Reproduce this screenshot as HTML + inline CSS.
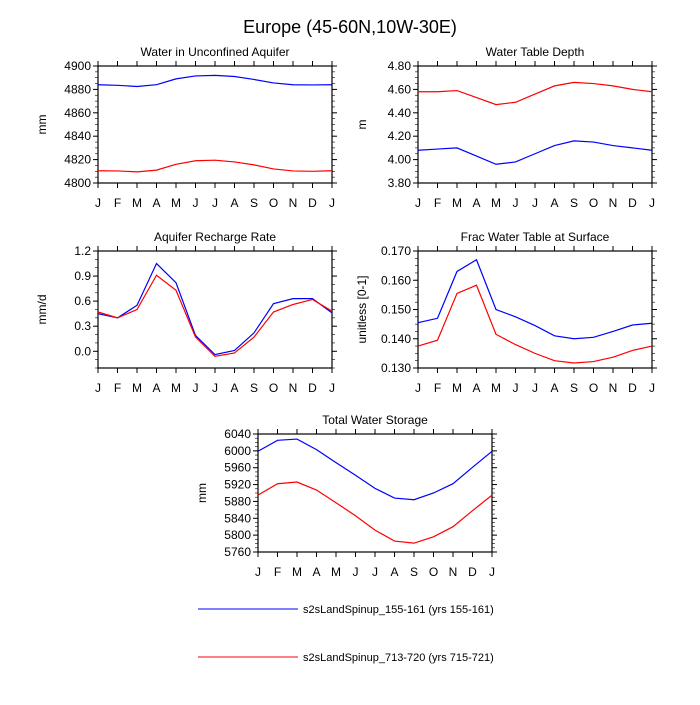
<!DOCTYPE html>
<html><head><meta charset="utf-8"><style>
body{margin:0;background:#fff;font-family:"Liberation Sans",sans-serif}
svg text{font-family:"Liberation Sans",sans-serif;fill:#000}
</style></head><body>
<svg id="c" width="700" height="700" viewBox="0 0 700 700">
<text x="350" y="33" font-size="18" text-anchor="middle">Europe (45-60N,10W-30E)</text>
<g>
<line x1="198" y1="609" x2="298" y2="609" stroke="#00f" stroke-width="1"/>
<text x="303" y="613" font-size="11">s2sLandSpinup_155-161 (yrs 155-161)</text>
<line x1="198" y1="657" x2="298" y2="657" stroke="#f00" stroke-width="1"/>
<text x="303" y="661" font-size="11">s2sLandSpinup_713-720 (yrs 715-721)</text>
</g>
</svg>
<script>
const months=["J","F","M","A","M","J","J","A","S","O","N","D","J"];
const aquiferBlue=[4884,4883.5,4882.5,4884,4889,4891.5,4892,4891,4888.5,4885.5,4884,4883.8,4884];
const aquiferRed=[4810.5,4810.3,4809.5,4811,4816,4819,4819.5,4818,4815.5,4812,4810.3,4810,4810.5];
const aquiferTicks=[4800,4820,4840,4860,4880,4900];
const wtdBlue=[4.08,4.09,4.10,4.03,3.96,3.98,4.05,4.12,4.16,4.15,4.12,4.10,4.08];
const wtdRed=[4.58,4.58,4.59,4.53,4.47,4.49,4.56,4.63,4.66,4.65,4.63,4.60,4.58];
const wtdTicks=[3.8,4.0,4.2,4.4,4.6,4.8];
const rechBlue=[0.45,0.40,0.55,1.05,0.82,0.19,-0.04,0.01,0.22,0.57,0.63,0.63,0.46];
const rechRed=[0.47,0.40,0.50,0.91,0.73,0.17,-0.06,-0.02,0.17,0.47,0.56,0.62,0.48];
const rechTicks=[0.0,0.3,0.6,0.9,1.2];
const fracBlue=[0.1455,0.147,0.163,0.167,0.150,0.1475,0.1445,0.141,0.140,0.1405,0.1425,0.1447,0.1453];
const fracRed=[0.1375,0.1395,0.1555,0.1583,0.1415,0.138,0.135,0.1325,0.1317,0.1322,0.1337,0.136,0.1375];
const fracTicks=[0.13,0.14,0.15,0.16,0.17];
const twsBlue=[5999,6025,6028,6003,5972,5942,5911,5888,5884,5900,5922,5961,5999];
const twsRed=[5895,5922,5926,5907,5877,5846,5812,5786,5781,5796,5820,5858,5895];
const twsTicks=[5760,5800,5840,5880,5920,5960,6000,6040];
const NS="http://www.w3.org/2000/svg";
const svg=document.getElementById("c");
function el(t,a,p){const e=document.createElementNS(NS,t);for(const k in a)e.setAttribute(k,a[k]);(p||svg).appendChild(e);return e;}
function panel(id,title,ylab,x0,x1,y0,y1,ymin,ymax,ticks,dec,minorStep,blue,red){
 const g=el("g",{});
 
 
 const X=i=>x0+(x1-x0)*i/(months.length-1);
 const Y=v=>y1-(v-ymin)/(ymax-ymin)*(y1-y0);
 const t=el("text",{x:(x0+x1)/2,y:y0-10,"font-size":12,"text-anchor":"middle"},g);t.textContent=title;
 
 
 const yl=el("text",{x:0,y:0,"font-size":12,"text-anchor":"middle",transform:`translate(${x0-52},${(y0+y1)/2}) rotate(-90)`},g);yl.textContent=ylab;
 
 
 for(let v=ymin;v<=ymax+1e-9;v+=minorStep){const y=Y(v);
  el("line",{x1:x0-3,x2:x0,y1:y,y2:y,stroke:"#000","stroke-width":0.6},g);
  el("line",{x1:x1,x2:x1+3,y1:y,y2:y,stroke:"#000","stroke-width":0.6},g);}
 ticks.forEach(v=>{const y=Y(v);
  el("line",{x1:x0-5,x2:x0,y1:y,y2:y,stroke:"#000","stroke-width":1},g);
  el("line",{x1:x1,x2:x1+5,y1:y,y2:y,stroke:"#000","stroke-width":1},g);
  const tt=el("text",{x:x0-7,y:y+4,"font-size":12,"text-anchor":"end"},g);tt.textContent=v.toFixed(dec);
  
  });
 months.forEach((m,i)=>{const x=X(i);
  el("line",{x1:x,x2:x,y1:y1,y2:y1+5,stroke:"#000","stroke-width":1},g);
  el("line",{x1:x,x2:x,y1:y0-5,y2:y0,stroke:"#000","stroke-width":1},g);
  const tt=el("text",{x:x,y:y1+24,"font-size":12,"text-anchor":"middle"},g);tt.textContent=m;
  
  });
 el("rect",{x:x0,y:y0,width:x1-x0,height:y1-y0,fill:"none",stroke:"#000","stroke-width":1.2},g);
 [[blue,"#00f","blue"],[red,"#f00","red"]].forEach(([d,c,n])=>{
  const p=el("polyline",{points:d.map((v,i)=>X(i)+","+Y(v)).join(" "),fill:"none",stroke:c,"stroke-width":1.2},g);
  
  });
}
panel("aquifer","Water in Unconfined Aquifer","mm",98,332,66,183,4800,4900,aquiferTicks,0,5,aquiferBlue,aquiferRed);
panel("water-table-depth","Water Table Depth","m",418,652,66,183,3.8,4.8,wtdTicks,2,0.05,wtdBlue,wtdRed);
panel("recharge","Aquifer Recharge Rate","mm/d",98,332,251,368,-0.2,1.2,rechTicks,1,0.1,rechBlue,rechRed);
panel("frac-water-table","Frac Water Table at Surface","unitless [0-1]",418,652,251,368,0.13,0.17,fracTicks,3,0.0025,fracBlue,fracRed);
panel("total-water-storage","Total Water Storage","mm",258,492,434,552,5760,6040,twsTicks,0,10,twsBlue,twsRed);
</script>
</body></html>
